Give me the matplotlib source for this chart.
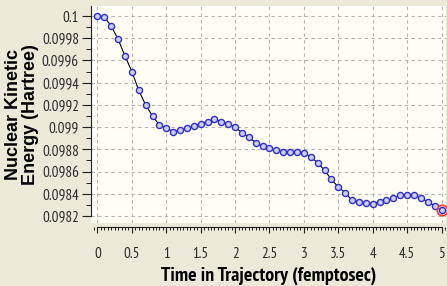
import matplotlib
matplotlib.use("Agg")
import matplotlib.pyplot as plt
from matplotlib.ticker import MultipleLocator

time_fs = [0.0, 0.1, 0.2, 0.3, 0.4, 0.5, 0.6, 0.7, 0.8, 0.9,
           1.0, 1.1, 1.2, 1.3, 1.4, 1.5, 1.6, 1.7, 1.8, 1.9,
           2.0, 2.1, 2.2, 2.3, 2.4, 2.5, 2.6, 2.7, 2.8, 2.9,
           3.0, 3.1, 3.2, 3.3, 3.4, 3.5, 3.6, 3.7, 3.8, 3.9,
           4.0, 4.1, 4.2, 4.3, 4.4, 4.5, 4.6, 4.7, 4.8, 4.9, 5.0]
energy = [0.10000, 0.09999, 0.09991, 0.09979, 0.09964, 0.09950, 0.09933, 0.09920, 0.09910, 0.09902,
          0.09899, 0.09896, 0.09897, 0.09899, 0.09901, 0.09903, 0.09905, 0.09907, 0.09905, 0.09903,
          0.09900, 0.09895, 0.09891, 0.09886, 0.09883, 0.09881, 0.09879, 0.09878, 0.09878, 0.09878,
          0.09877, 0.09873, 0.09868, 0.09861, 0.09853, 0.09846, 0.09841, 0.09834, 0.09833, 0.09832,
          0.09831, 0.09833, 0.09834, 0.09836, 0.09839, 0.09839, 0.09839, 0.09836, 0.09833, 0.09829,
          0.09825]
y_ticks = [0.1, 0.0998, 0.0996, 0.0994, 0.0992, 0.099, 0.0988, 0.0986, 0.0984, 0.0982]
y_tick_labels = ["0.1", "0.0998", "0.0996", "0.0994", "0.0992", "0.099",
                 "0.0988", "0.0986", "0.0984", "0.0982"]
x_ticks = [0, 0.5, 1, 1.5, 2, 2.5, 3, 3.5, 4, 4.5, 5]
x_tick_labels = ["0", "0.5", "1", "1.5", "2", "2.5", "3", "3.5", "4", "4.5", "5"]

NARROW = ["PT Sans Narrow", "Archivo Narrow", "Liberation Sans", "DejaVu Sans"]
SANS = ["Liberation Sans", "DejaVu Sans"]

W, H = 447, 286
fig = plt.figure(figsize=(W / 100, H / 100), dpi=100)
fig.patch.set_facecolor("#ECE9D8")

left, right, top, bottom = 91, 446, 6, 223
ax = fig.add_axes([left / W, 1 - bottom / H, (right - left) / W, (bottom - top) / H])
ax.set_facecolor("#FFFEF6")

ax.plot(time_fs, energy, color="black", lw=0.8, zorder=3)
ax.plot(time_fs, energy, linestyle="none", marker="o", markersize=4.4,
        markerfacecolor="#CDCDF0", markeredgecolor="#2F2FC8", markeredgewidth=1.0, zorder=4)
ax.plot(time_fs[-1:], energy[-1:], linestyle="none", marker="o", markersize=7.5,
        markerfacecolor="none", markeredgecolor="#F04040", markeredgewidth=1.3, zorder=5)

ax.set_xlim(-0.094, 5.065)
ax.set_ylim(0.098137, 0.10009)

ax.set_xticks(x_ticks)
ax.set_xticklabels(x_tick_labels)
ax.set_yticks(y_ticks)
ax.set_yticklabels(y_tick_labels)
ax.xaxis.set_minor_locator(MultipleLocator(0.05))
ax.yaxis.set_minor_locator(MultipleLocator(0.0001))

ax.grid(True, which="major", color="#B4B4B4", linestyle=(0, (3, 3)), linewidth=0.8)
ax.set_axisbelow(True)

for s in ("top", "right"):
    ax.spines[s].set_visible(False)
ax.spines["left"].set_color("#202020")
ax.spines["bottom"].set_color("#202020")
ax.spines["bottom"].set_position(("outward", 3))
ax.spines["bottom"].set_bounds(0, 5)
ax.spines["left"].set_bounds(0.0982, 0.10009)

xpad, ypad, tsize = 6.0, 1.8, 12.0
ax.tick_params(axis="x", which="major", direction="out", length=4, width=0.8,
               color="#202020", pad=xpad, labelsize=tsize, labelcolor="#2A2A2A")
ax.tick_params(axis="x", which="minor", direction="out", length=2.4, width=0.7, color="#202020")
ax.tick_params(axis="y", which="major", direction="out", length=6.8, width=0.8,
               color="#202020", pad=ypad, labelsize=tsize, labelcolor="#2A2A2A")
ax.tick_params(axis="y", which="minor", direction="out", length=3.8, width=0.7, color="#202020")


def set_tick_fonts():
    for lab in ax.get_xticklabels() + ax.get_yticklabels():
        lab.set_family(NARROW)


set_tick_fonts()

xl_size = 14.5
ax.set_xlabel("Time in Trajectory (femptosec)", family=NARROW, fontweight="bold",
              fontsize=xl_size, color="black")
ax.set_ylabel("Nuclear Kinetic\nEnergy (Hartree)", family=SANS, fontweight="bold",
              fontsize=13, color="black", linespacing=1.0)
ax.yaxis.set_label_coords((39 - left) / (right - left), 0.5)
ax.xaxis.set_label_coords(0.5, (bottom - 267) / (bottom - top))

# fit text sizes / positions to the reference pixel measurements
for _ in range(2):
    fig.canvas.draw()
    r = fig.canvas.get_renderer()
    w = ax.get_yticklabels()[-1].get_window_extent(r).width
    tsize = tsize * 37.0 / w
    xl = ax.xaxis.label
    wx = xl.get_window_extent(r).width
    xl_size = xl_size * 215.0 / wx
    xl.set_fontsize(xl_size)
    ax.tick_params(axis="both", which="major", labelsize=tsize)
    set_tick_fonts()

for _ in range(3):
    fig.canvas.draw()
    r = fig.canvas.get_renderer()
    bb = ax.get_xticklabels()[0].get_window_extent(r)
    cy = (bb.y0 + bb.y1) / 2
    xpad = max(0.5, xpad + (cy - (H - 254.5)) * 72 / 100)
    bby = ax.get_yticklabels()[-1].get_window_extent(r)
    ypad = min(4.0, max(1.2, ypad + (bby.x1 - 79.0) * 72 / 100))
    ax.tick_params(axis="x", which="major", pad=xpad)
    ax.tick_params(axis="y", which="major", pad=ypad)
    set_tick_fonts()

fig.savefig("out.png", dpi=100, facecolor=fig.get_facecolor())
